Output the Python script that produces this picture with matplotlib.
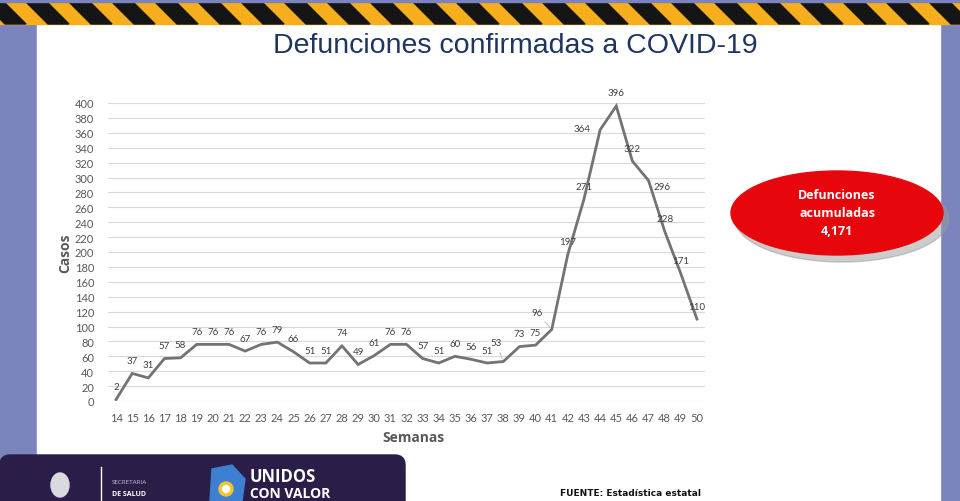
import numpy as np
import matplotlib
matplotlib.use("Agg")
import matplotlib.pyplot as plt
from matplotlib.patches import Rectangle, Polygon, Ellipse, FancyBboxPatch

# data
semanas = list(range(14, 51))
casos = [2, 37, 31, 57, 58, 76, 76, 76, 67, 76, 79, 66, 51, 51, 74, 49, 61, 76, 76,
         57, 51, 60, 56, 51, 53, 73, 75, 96, 197, 271, 364, 396, 322, 296, 228, 171, 110]
yticks = list(range(0, 401, 20))
titulo = "Defunciones confirmadas a COVID-19"
total_txt = "Defunciones\nacumuladas\n4,171"
fuente = "FUENTE: Estadística estatal"

W, H = 960, 502
fig = plt.figure(figsize=(W / 100, H / 100), dpi=100)

# background in pixel coords
bg = fig.add_axes([0, 0, 1, 1])
bg.set_xlim(0, W)
bg.set_ylim(H, 0)
bg.axis("off")
side = "#7b84bd"
bg.add_patch(Rectangle((0, 0), W, H, color=side, zorder=0))
bg.add_patch(Rectangle((37, 25), 903, H - 25, color="white", zorder=1))

# hazard stripes
bg.add_patch(Rectangle((0, 3), W, 22, color="#f6ae1d", zorder=2))
per = 43
for x0 in np.arange(-60, W + 60, per):
    bg.add_patch(Polygon([(x0, 3), (x0 + 21, 3), (x0 + 43, 25), (x0 + 22, 25)],
                         closed=True, color="#151515", zorder=3))
bg.add_patch(Rectangle((0, 0), W, 3, color=side, zorder=4))

# bottom banner
bg.add_patch(FancyBboxPatch((0, 456), 405, 60, boxstyle="round,pad=0,rounding_size=10",
                            color="#2a1d47", zorder=5))
bg.plot([101, 101], [468, 502], color="white", lw=1, zorder=6)
bg.add_patch(Ellipse((60, 486), 18, 24, color="#d9d9e0", zorder=6))
bg.text(112, 483, "SECRETARIA", color="#c9c4d8", fontsize=4.5, family="Open Sans",
        va="center", zorder=6)
bg.text(112, 495, "DE SALUD", color="white", fontsize=5, family="Open Sans",
        weight="bold", va="center", zorder=6)
bg.add_patch(Polygon([(212, 470), (232, 466), (245, 480), (242, 502), (210, 502)],
                     closed=True, color="#3d7fd0", zorder=6))
bg.add_patch(Ellipse((226, 490), 14, 14, color="#f4c430", zorder=7))
bg.add_patch(Ellipse((226, 490), 7, 7, color="white", zorder=8))
bg.text(250, 477, "UNIDOS", color="white", fontsize=12, family="Open Sans",
        weight="bold", va="center", zorder=6)
bg.text(250, 501, "CON VALOR", color="white", fontsize=10, family="Open Sans",
        weight="bold", va="bottom", zorder=6)

# title and labels
bg.text(515, 46, titulo, ha="center", va="center", fontsize=20.5,
        family="Liberation Sans", color="#1f3560", zorder=6)
bg.text(65, 253, "Casos", rotation=90, ha="center", va="center", fontsize=10,
        family="Open Sans", weight="bold", color="#595959", zorder=6)
bg.text(413, 438, "Semanas", ha="center", va="center", fontsize=10,
        family="Open Sans", weight="bold", color="#595959", zorder=6)
bg.text(560, 494, fuente, ha="left", va="center", fontsize=6.5,
        family="Liberation Sans Narrow", weight="bold", color="#111111", zorder=6)

# red ellipse with total
bg.add_patch(Ellipse((842, 220), 214, 86, color="#9a9a9a", alpha=0.5, zorder=5))
bg.add_patch(Ellipse((837, 214), 212, 84, color="#e8060d", zorder=6))
bg.text(837, 214, total_txt, ha="center", va="center", fontsize=9,
        family="Open Sans", weight="bold", color="white", linespacing=1.5, zorder=7)

# chart
ax = fig.add_axes([108 / W, 1 - 402 / H, 597 / W, 298 / H])
ax.patch.set_alpha(0)
ax.plot(semanas, casos, color="#737373", lw=2, solid_joinstyle="miter", zorder=3)
ax.set_xlim(13.5, 50.5)
ax.set_ylim(0, 400)
ax.set_xticks(semanas)
ax.set_yticks(yticks)
ax.grid(axis="y", color="#d9d9d9", lw=0.8)
ax.set_axisbelow(True)
for s in ax.spines.values():
    s.set_visible(False)
ax.tick_params(length=0, labelsize=8, labelcolor="#595959", pad=8)
ax.tick_params(axis="y", pad=10)
for lab in ax.get_xticklabels() + ax.get_yticklabels():
    lab.set_family("Lato")

# label offsets in px (default above the point)
special = {41: (-15, 17), 44: (-18, 1), 47: (13, -6), 38: (-7, 19)}
leader = {41, 38}
for w, v in zip(semanas, casos):
    dx, dy = special.get(w, (0, 13))
    kw = {}
    if w in leader:
        kw["arrowprops"] = dict(arrowstyle="-", color="#bfbfbf", lw=0.7,
                                shrinkA=2, shrinkB=2)
    ax.annotate(str(v), (w, v), xytext=(dx * 0.72, dy * 0.72),
                textcoords="offset points", ha="center", va="center",
                fontsize=7, family="Lato", color="#404040", zorder=4, **kw)

fig.savefig("out.png", dpi=100)
